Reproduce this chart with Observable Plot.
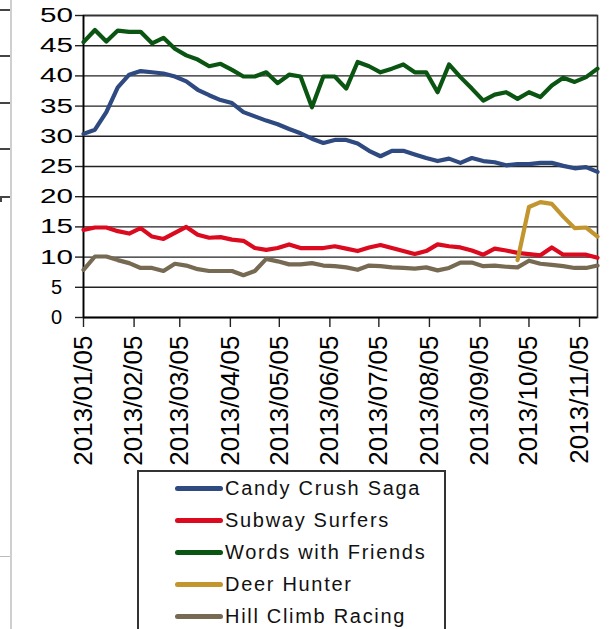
<!DOCTYPE html>
<html>
<head>
<meta charset="utf-8">
<script src="https://cdn.jsdelivr.net/npm/d3@7"></script>
<script src="https://cdn.jsdelivr.net/npm/@observablehq/plot@0.6"></script>
<style>
  html, body { margin: 0; padding: 0; background: #fff; }
  #wrap { position: relative; width: 612px; height: 629px; overflow: hidden; background: #fff; font-family: "Liberation Sans", Arial, sans-serif; }
  #chart { position: absolute; left: 0; top: 0; }
  .deco { position: absolute; }
  #legend { position: absolute; left: 137px; top: 470px; width: 305px; height: 180px; border: 2px solid #333; background: #fff; }
  .row { position: relative; height: 32px; display: flex; align-items: center; }
  .sw { position: absolute; left: 36px; width: 48px; height: 5px; border-radius: 2.5px; }
  .lab { position: absolute; left: 86px; font-size: 20px; letter-spacing: 1.7px; color: #111; white-space: nowrap; }
</style>
</head>
<body>
<div id="wrap">
  <div id="chart"></div>
  <div id="legend"></div>
</div>
<script>
// ---- data ----
const dates = [
  "2013-01-05","2013-01-12","2013-01-19","2013-01-26",
  "2013-02-02","2013-02-09","2013-02-16","2013-02-23",
  "2013-03-02","2013-03-09","2013-03-16","2013-03-23","2013-03-30",
  "2013-04-06","2013-04-13","2013-04-20","2013-04-27",
  "2013-05-04","2013-05-11","2013-05-18","2013-05-25",
  "2013-06-01","2013-06-08","2013-06-15","2013-06-22","2013-06-29",
  "2013-07-06","2013-07-13","2013-07-20","2013-07-27",
  "2013-08-03","2013-08-10","2013-08-17","2013-08-24","2013-08-31",
  "2013-09-07","2013-09-14","2013-09-21","2013-09-28",
  "2013-10-05","2013-10-12","2013-10-19","2013-10-26",
  "2013-11-02","2013-11-09","2013-11-16"
];
const candyCrush = [30.4,31.1,34.0,38.1,40.2,40.8,40.6,40.4,39.9,39.1,
  37.7,36.8,36.0,35.5,34.0,33.3,32.6,32.0,31.2,30.5,
  29.6,28.9,29.4,29.4,28.8,27.6,26.7,27.6,27.6,27.0,
  26.4,25.9,26.3,25.6,26.4,25.9,25.7,25.2,25.4,25.4,
  25.6,25.6,25.1,24.7,24.9,24.1];
const subwaySurfers = [14.5,14.9,14.9,14.3,13.9,14.8,13.4,13.0,14.0,15.0,
  13.7,13.2,13.3,12.9,12.7,11.5,11.2,11.5,12.1,11.5,
  11.5,11.5,11.8,11.4,11.0,11.6,12.0,11.5,11.0,10.5,
  11.0,12.1,11.8,11.6,11.1,10.4,11.4,11.1,10.7,10.5,
  10.3,11.6,10.4,10.4,10.4,9.9];
const wordsWithFriends = [45.6,47.6,45.7,47.5,47.3,47.3,45.4,46.3,44.5,43.4,
  42.7,41.6,42.0,41.0,39.9,39.9,40.6,38.8,40.2,39.9,
  34.8,39.9,39.9,37.9,42.3,41.6,40.6,41.2,41.9,40.6,
  40.6,37.3,41.9,39.8,37.9,35.9,36.9,37.3,36.2,37.3,
  36.5,38.4,39.7,39.0,39.8,41.2];
const deerHunter = [null,null,null,null,null,null,null,null,null,null,
  null,null,null,null,null,null,null,null,null,null,
  null,null,null,null,null,null,null,null,null,null,
  null,null,null,null,null,null,null,null,9.5,18.3,
  19.1,18.8,16.7,14.8,14.9,13.4];
const hillClimb = [7.9,10.1,10.1,9.5,9.0,8.2,8.2,7.7,8.9,8.6,
  8.0,7.7,7.7,7.7,7.0,7.7,9.7,9.3,8.8,8.8,
  9.0,8.6,8.5,8.3,7.9,8.6,8.5,8.3,8.2,8.1,
  8.3,7.8,8.2,9.1,9.1,8.5,8.6,8.4,8.3,9.4,
  8.9,8.7,8.5,8.2,8.2,8.6];
const seriesNames = ["Candy Crush Saga","Subway Surfers","Words with Friends","Deer Hunter","Hill Climb Racing"];
const seriesColors = ["#2e4a80","#dc0a1e","#0b5512","#c3952f","#766a52"];
const yTicks = [0,5,10,15,20,25,30,35,40,45,50];
const xTickLabels = ["2013/01/05","2013/02/05","2013/03/05","2013/04/05","2013/05/05","2013/06/05",
  "2013/07/05","2013/08/05","2013/09/05","2013/10/05","2013/11/05"];
const xDomain = ["2013-01-05","2013-11-16"];

// ---- build table ----
const seriesValues = [candyCrush, subwaySurfers, wordsWithFriends, deerHunter, hillClimb];
const rows = [];
seriesNames.forEach((name, s) => {
  seriesValues[s].forEach((v, i) => {
    if (v != null) rows.push({series: name, date: new Date(dates[i]), value: v});
  });
});
const parseLabel = d3.utcParse("%Y/%m/%d");
const xTicks = xTickLabels.map(parseLabel);
const fmt = d3.utcFormat("%Y/%m/%d");

const chart = Plot.plot({
  width: 612,
  height: 480,
  marginLeft: 83,
  marginRight: 15,
  marginTop: 15,
  marginBottom: 163,
  style: {fontFamily: "'Liberation Sans', Arial, sans-serif", background: "white", color: "#000", overflow: "visible"},
  x: {type: "utc", domain: xDomain.map(d => new Date(d)), label: null},
  y: {domain: [0, 50], label: null},
  color: {domain: seriesNames, range: seriesColors},
  marks: [
    Plot.gridY(yTicks, {stroke: "#222", strokeOpacity: 1, strokeWidth: 1.4}),
    Plot.frame({stroke: "#333", strokeWidth: 1.6}),
    Plot.axisY(yTicks, {label: null, tickSize: 8, tickPadding: 19, textAnchor: "middle", fontSize: 20, stroke: "#222", strokeWidth: 1.4}),
    Plot.axisX(xTicks, {label: null, tickSize: 10, tickPadding: 8, tickRotate: -90, tickFormat: fmt, fontSize: 26, stroke: "#222", strokeWidth: 1.4}),
    Plot.ruleX([xDomain[0]].map(d => new Date(d)), {stroke: "#000", strokeWidth: 1.6}),
    Plot.ruleY([0], {stroke: "#000", strokeWidth: 1.6}),
    Plot.lineY(rows, {x: "date", y: "value", stroke: "series", z: "series", strokeWidth: 4.2, strokeLinejoin: "round", strokeLinecap: "round", curve: "linear"})
  ]
});
document.getElementById("chart").appendChild(chart);

// widen the two-digit y labels as in the reference
d3.select(chart).selectAll('g[aria-label="y-axis tick label"] text').each(function() {
  const t = this.textContent.trim();
  if (t.length === 2) {
    d3.select(this).attr("textLength", 33).attr("lengthAdjust", "spacingAndGlyphs");
  }
});

// ---- legend ----
const legend = d3.select("#legend");
seriesNames.forEach((name, i) => {
  const r = legend.append("div").attr("class", "row");
  r.append("div").attr("class", "sw").style("background", seriesColors[i]);
  r.append("div").attr("class", "lab").text(name);
});

// ---- left-edge remnants of the neighbouring figure ----
const wrap = document.getElementById("wrap");
function deco(l, t, w, h, c) {
  const d = document.createElement("div");
  d.className = "deco";
  Object.assign(d.style, {left: l + "px", top: t + "px", width: w + "px", height: h + "px", background: c});
  wrap.appendChild(d);
}
deco(10, 0, 2, 629, "#cfcfcf");
[9, 55, 102, 148, 196].forEach(y => deco(0, y, 10, 2, "#444"));
deco(0, 196, 2, 6, "#444");
deco(0, 556, 10, 1, "#bbb");
</script>
</body>
</html>
